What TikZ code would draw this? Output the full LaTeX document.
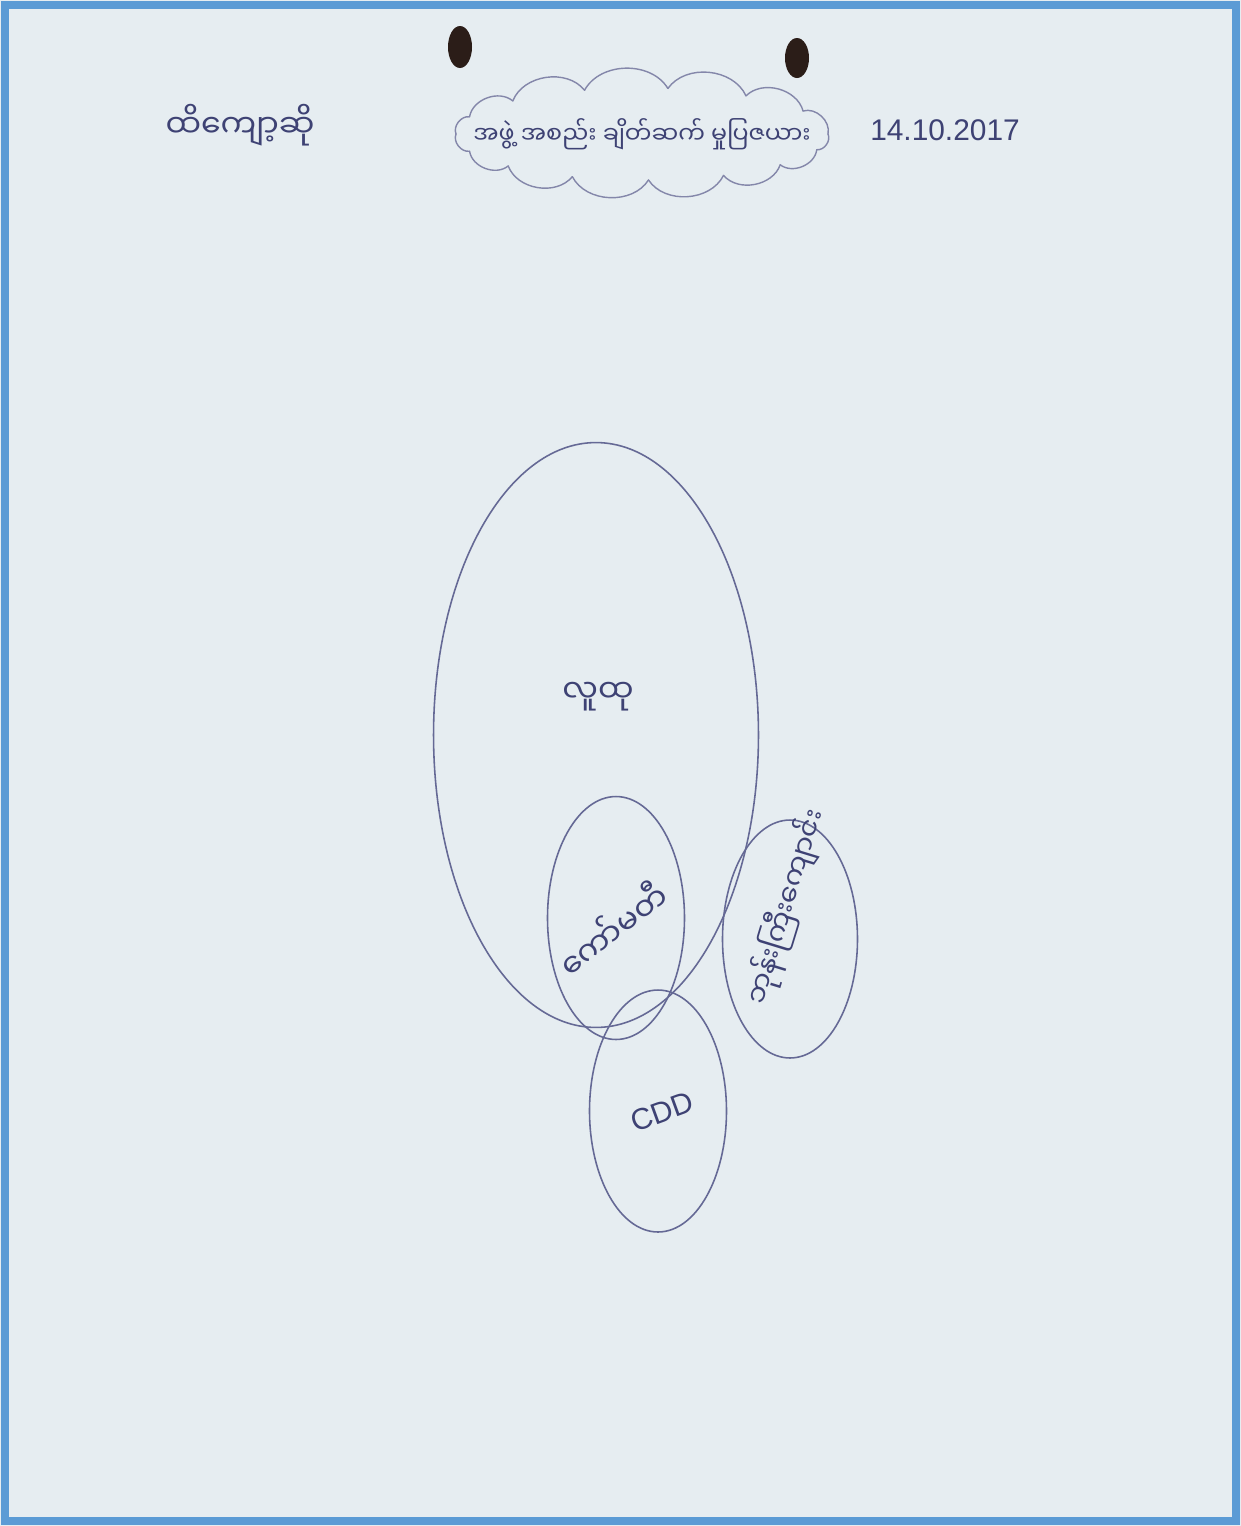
\documentclass[tikz,border=0pt]{standalone}
\usepackage{fontspec}
\setmainfont{Liberation Sans}
\newfontfamily\myan[Script=Myanmar]{Noto Sans Myanmar UI}
\usetikzlibrary{shapes.geometric, calc, positioning}
\definecolor{paper}{HTML}{E6EDF1}
\definecolor{frameblue}{HTML}{5B9BD5}
\definecolor{ink}{HTML}{3E4274}
\definecolor{inklight}{HTML}{656995}
\definecolor{holebrown}{HTML}{2B1D18}

\begin{document}
\begin{tikzpicture}[x=0.02cm, y=-0.02cm,
  ring/.style={ellipse, draw=inklight, line width=0.9pt, inner sep=0pt},
  puff/.style={draw=inklight!80, line width=0.8pt, line cap=round},
  hand/.style={font=\myan\fontsize{18}{22}\selectfont, text=ink, inner sep=0pt},
  digits/.style={font=\fontsize{17}{20}\selectfont, text=ink, inner sep=0pt}]
  % sheet and frame
  \useasboundingbox (0,0) rectangle (1241,1526);
  \fill[paper] (0,0) rectangle (1241,1526);
  \draw[frameblue, line width=0.17cm] (5,5) rectangle (1236,1521);
  % punch holes
  \fill[holebrown] (460,47) ellipse [x radius=12, y radius=21];
  \fill[holebrown] (797,58) ellipse [x radius=12, y radius=20];

  % heading row
  \node[hand] (place) at (240,125) {ထိကျော့ဆို};
  \node[hand, font=\myan\fontsize{13.5}{16}\selectfont] (heading) at (642,134)
    {အဖွဲ့ အစည်း ချိတ်ဆက် မှုပြဇယား};
  \foreach \a/\b in {0/20, 20/42, 42/64, 64/88, 88/112, 112/136, 136/158,
                     158/180, 180/202, 202/226, 226/252, 252/278, 278/304,
                     304/330, 330/360}
    \draw[puff] ($(heading)+(\a:186 and 46)$) to[bend left=60] ($(heading)+(\b:186 and 46)$);
  \node[digits] (date) at (945,130) {14.10.2017};

  % circles
  \node[ring, minimum width=6.5cm, minimum height=11.7cm] (community) at (596,735) {};
  \node[ring, minimum width=2.74cm, minimum height=4.86cm] (committee) at (616,918) {};
  \node[ring, minimum width=2.74cm, minimum height=4.84cm] (cdd) at (658,1111) {};
  \node[ring, minimum width=2.7cm, minimum height=4.76cm] (monastery) at (790,939) {};

  % circle labels
  \node[hand] (lbl-community) at (598,697) {လူထု};
  \node[hand, rotate=38] (lbl-committee) at (612,928) {ကော်မတီ};
  \node[digits, rotate=20] (lbl-cdd) at (662,1112) {CDD};
  \node[hand, font=\myan\fontsize{16}{19}\selectfont, rotate=73]
    (lbl-monastery) at (786,907) {ဘုန်းကြီးကျောင်း};
\end{tikzpicture}
\end{document}
